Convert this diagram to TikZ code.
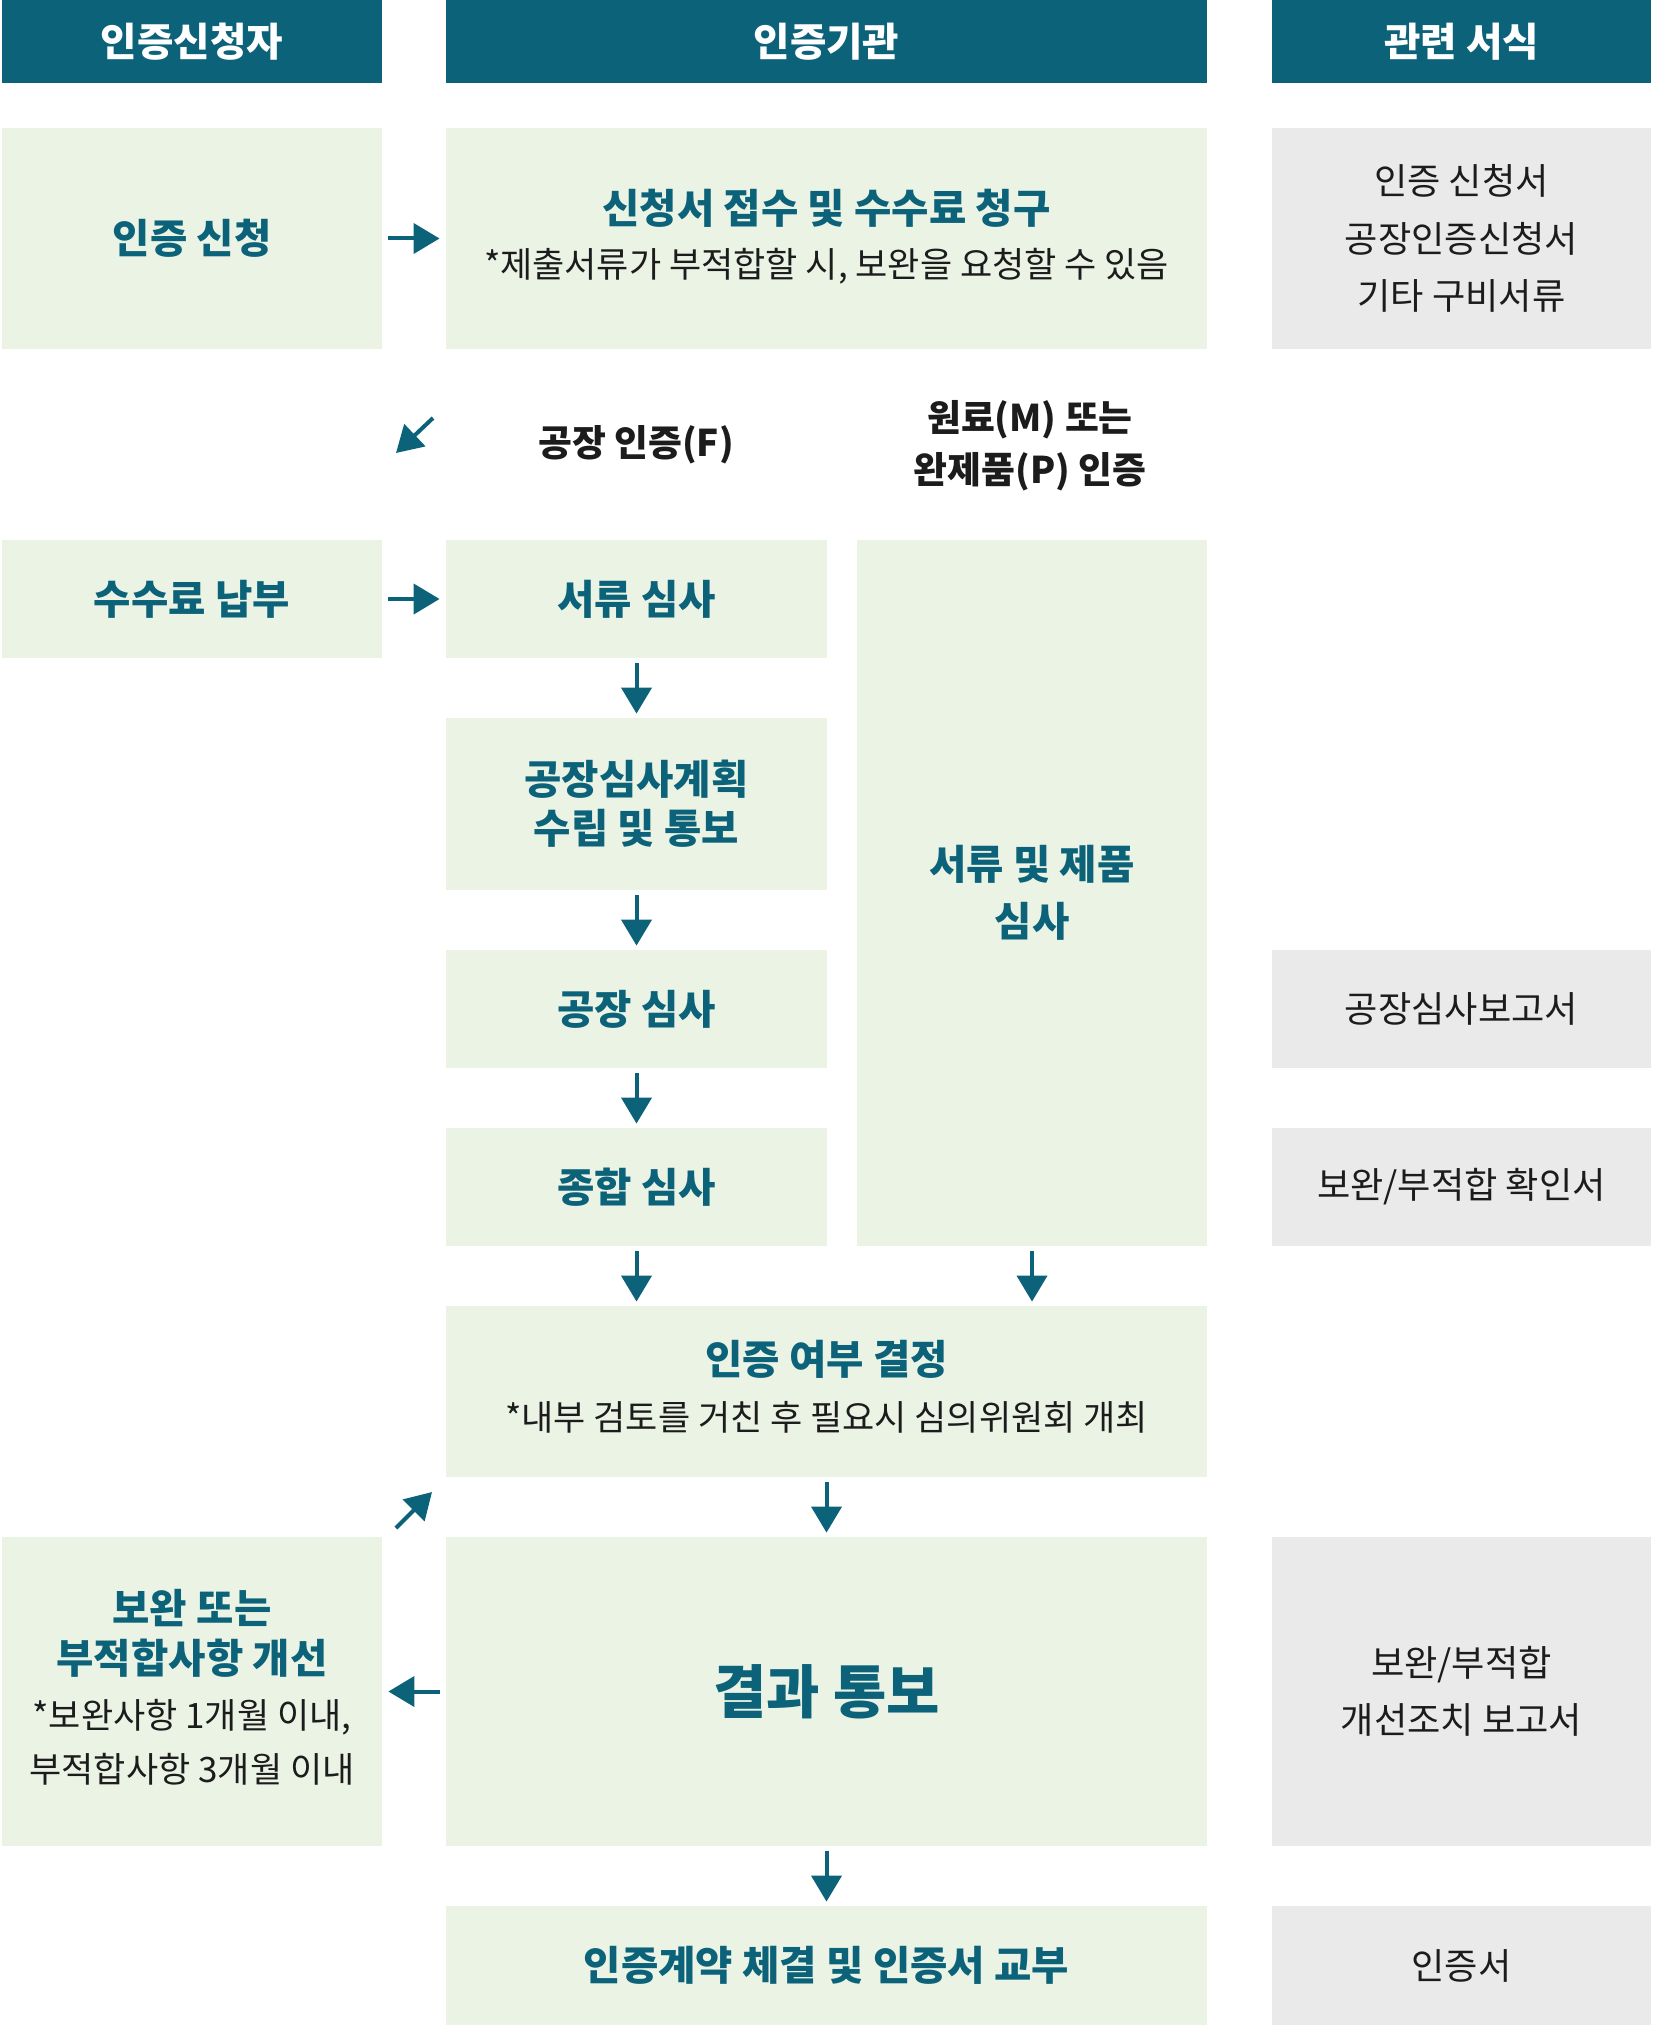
\documentclass[tikz,border=0pt]{standalone}
\usepackage{fontspec}
\setmainfont{Noto Sans CJK KR}
\usetikzlibrary{arrows.meta}
\definecolor{krteal}{HTML}{0B6279}
\definecolor{krgreen}{HTML}{EBF3E5}
\definecolor{krgray}{HTML}{EAEAEA}
\definecolor{krblack}{HTML}{1C1C1C}
\tikzset{
  hbox/.style={fill=krteal, inner sep=0pt, text=white, font=\bfseries\fontsize{19.8}{22}\selectfont},
  gbox/.style={fill=krgreen, inner sep=0pt, align=center, text=krteal, font=\bfseries\fontsize{20.3}{24}\selectfont},
  fbox/.style={fill=krgray, inner sep=0pt, align=center, text=krblack, font=\fontsize{18.1}{28.75}\selectfont},
  ttl/.style={inner sep=0pt, align=center, text=krteal, font=\bfseries\fontsize{20.3}{25}\selectfont},
  subt/.style={inner sep=0pt, align=center, text=krblack, font=\fontsize{17.5}{27}\selectfont},
  lbl/.style={inner sep=0pt, align=center, text=krblack, font=\bfseries\fontsize{18.4}{26}\selectfont},
  arr/.style={-{Triangle[length=13pt,width=15pt]}, line width=2pt, draw=krteal},
  colL/.style={minimum width=190pt},
  colM/.style={minimum width=380.5pt},
  colML/.style={minimum width=190.5pt},
  colMR/.style={minimum width=175pt},
  colR/.style={minimum width=189.5pt},
}
\begin{document}
\begin{tikzpicture}[x=0.5pt,y=-0.5pt]
\useasboundingbox (0,0) rectangle (1653,2028);
% headers
\node[hbox, colL, minimum height=41.5pt] (hL) at (192,41.5) {인증신청자};
\node[hbox, colM, minimum height=41.5pt] (hM) at (826.5,41.5) {인증기관};
\node[hbox, colR, minimum height=41.5pt] (hR) at (1461.5,41.5) {관련 서식};
% row 1
\node[gbox, colL, minimum height=110.5pt] (r1L) at (192,238.5) {인증 신청};
\node[gbox, colM, minimum height=110.5pt] (r1M) at (826.5,238.5) {};
\node[ttl] (r1Mt) at (826.5,208) {신청서 접수 및 수수료 청구};
\node[subt] (r1Ms) at (826.5,266) {*제출서류가 부적합할 시, 보완을 요청할 수 있음};
\node[fbox, colR, minimum height=110.5pt] (r1R) at (1461.5,238.5) {인증 신청서\\공장인증신청서\\기타 구비서류};
% branch labels
\node[lbl] (lF) at (636,445) {공장 인증(F)};
\node[lbl] (lMP) at (1030,446) {원료(M) 또는\\완제품(P) 인증};
% row 2
\node[gbox, colL, minimum height=59pt] (feeL) at (192,599) {수수료 납부};
\node[gbox, colML, minimum height=59pt] (docM) at (636.5,599) {서류 심사};
\node[gbox, colMR, minimum height=353pt, font=\bfseries\fontsize{20.3}{28.5}\selectfont] (prodR) at (1032,893) {서류 및 제품\\심사};
\node[gbox, colML, minimum height=86pt, font=\bfseries\fontsize{20.3}{24.5}\selectfont] (planM) at (636.5,804) {공장심사계획\\수립 및 통보};
\node[gbox, colML, minimum height=59pt] (auditM) at (636.5,1009) {공장 심사};
\node[fbox, colR, minimum height=59pt] (auditR) at (1461.5,1009) {공장심사보고서};
\node[gbox, colML, minimum height=59pt] (totalM) at (636.5,1187) {종합 심사};
\node[fbox, colR, minimum height=59pt] (totalR) at (1461.5,1187) {보완/부적합 확인서};
% decision
\node[gbox, colM, minimum height=85.5pt] (decM) at (826.5,1391.5) {};
\node[ttl] (decMt) at (826.5,1359) {인증 여부 결정};
\node[subt] (decMs) at (826.5,1417) {*내부 검토를 거친 후 필요시 심의위원회 개최};
% result
\node[gbox, colL, minimum height=154.5pt] (resL) at (192,1691.5) {};
\node[ttl] (resLt) at (192,1633) {보완 또는\\부적합사항 개선};
\node[subt] (resLs) at (192,1742) {*보완사항 1개월 이내,\\부적합사항 3개월 이내};
\node[gbox, colM, minimum height=154.5pt, font=\bfseries\fontsize{29}{32}\selectfont] (resM) at (826.5,1691.5) {결과 통보};
\node[fbox, colR, minimum height=154.5pt, font=\fontsize{18.1}{28.5}\selectfont] (resR) at (1461.5,1691.5) {보완/부적합\\개선조치 보고서};
% final
\node[gbox, colM, minimum height=59.5pt] (finM) at (826.5,1965.5) {인증계약 체결 및 인증서 교부};
\node[fbox, colR, minimum height=59.5pt] (finR) at (1461.5,1965.5) {인증서};
% arrows
\draw[arr] ([xshift=3pt]r1L.east) -- ([xshift=-3pt]r1M.west);
\draw[arr] ([xshift=3pt]feeL.east) -- ([xshift=-3pt]docM.west);
\coordinate (d1a) at (433,418);
\coordinate (d1b) at (396,453);
\draw[arr] (d1a) -- (d1b);
\draw[arr] ([yshift=-2.5pt]docM.south) -- ([yshift=2pt]planM.north);
\draw[arr] ([yshift=-2.5pt]planM.south) -- ([yshift=2pt]auditM.north);
\draw[arr] ([yshift=-2.5pt]auditM.south) -- ([yshift=2pt]totalM.north);
\draw[arr] ([yshift=-2.5pt]totalM.south) -- ([yshift=2pt]totalM.south |- decM.north);
\draw[arr] ([yshift=-2.5pt]prodR.south) -- ([yshift=2pt]prodR.south |- decM.north);
\draw[arr] ([yshift=-2.5pt]decM.south) -- ([yshift=2pt]resM.north);
\draw[arr] ([yshift=-2.5pt]resM.south) -- ([yshift=2pt]finM.north);
\draw[arr] ([xshift=-3pt]resM.west) -- ([xshift=3pt]resL.east);
\coordinate (d2a) at (396,1528);
\coordinate (d2b) at (432,1492);
\draw[arr] (d2a) -- (d2b);
\end{tikzpicture}
\end{document}
